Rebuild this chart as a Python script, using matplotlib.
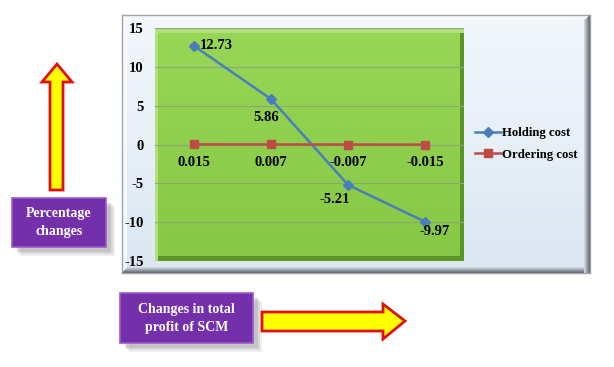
import matplotlib.pyplot as plt
import numpy as np
from matplotlib.patches import Rectangle, Polygon
from matplotlib.colors import LinearSegmentedColormap

categories = ["0.015", "0.007", "-0.007", "-0.015"]
holding = [12.73, 5.86, -5.21, -9.97]
ordering = [0.015, 0.007, -0.007, -0.015]
holding_labels = ["12.73", "5.86", "-5.21", "-9.97"]
ordering_labels = ["0.015", "0.007", "-0.007", "-0.015"]

W, H = 614, 367
plt.rcParams['font.family'] = ['Liberation Serif', 'DejaVu Serif']
plt.rcParams['font.weight'] = 'bold'
plt.rcParams['axes.unicode_minus'] = False

fig = plt.figure(figsize=(W / 100, H / 100), dpi=100)
fig.patch.set_facecolor('white')


def fx(x):
    return x / W


def fy(y):
    return 1 - y / H


def pix_poly(pts, **kw):
    return Polygon([(fx(x), fy(y)) for x, y in pts], closed=True,
                   transform=fig.transFigure, **kw)


def bevel(a, w, h, b, dark, light):
    # strips along the edges of an axes that uses pixel coordinates
    for i in range(b):
        t = i / max(b - 1, 1)
        cd = np.array(dark) * (1 - t) + np.array(light) * t
        a.add_patch(Rectangle((w - i - 1, 0), 1, h - i, color=cd, lw=0, zorder=1))
        a.add_patch(Rectangle((i, i), w - 2 * i, 1, color=cd, lw=0, zorder=1))


# ===== outer chart frame (light blue) =====
fw, fh = 590 - 122, 273 - 15
frame_ax = fig.add_axes([fx(122), fy(273), fx(590) - fx(122), fy(15) - fy(273)], zorder=0)
frame_ax.imshow(np.linspace(0, 1, 100).reshape(-1, 1), aspect='auto',
                cmap=LinearSegmentedColormap.from_list('fr', ['#dce7f2', '#f2f7fc']),
                extent=[0, fw, 0, fh], origin='lower', zorder=0)
frame_ax.add_patch(Rectangle((0, 0), 5, fh, color='#f7fafd', lw=0, zorder=1))
frame_ax.add_patch(Rectangle((0, fh - 5), fw, 5, color='#f7fafd', lw=0, zorder=1))
bevel(frame_ax, fw, fh, 6, (0.40, 0.42, 0.45), (0.80, 0.84, 0.89))
frame_ax.set_xlim(0, fw)
frame_ax.set_ylim(0, fh)
frame_ax.set_xticks([])
frame_ax.set_yticks([])
for s in frame_ax.spines.values():
    s.set_color('#a0a4a8')
    s.set_linewidth(1)

# ===== plot area =====
ax = fig.add_axes([fx(155), fy(261), fx(464) - fx(155), fy(28) - fy(261)], zorder=2)
green = LinearSegmentedColormap.from_list('gr', ['#86c845', '#98d656'])
ax.imshow(np.linspace(0, 1, 100).reshape(-1, 1), aspect='auto', cmap=green,
          extent=[-0.5, 3.5, -15, 15], origin='lower', zorder=0)
# green bevel edges
ax.add_patch(Rectangle((3.45, -15), 0.05, 30, color='#5c9428', zorder=0.5, lw=0))
ax.add_patch(Rectangle((-0.5, -15), 4, 0.7, color='#5c9428', zorder=0.5, lw=0))
ax.add_patch(Rectangle((-0.5, 14.4), 4, 0.6, color='#b2e07c', zorder=0.5, lw=0))
ax.add_patch(Rectangle((-0.5, -15), 0.04, 30, color='#b2e07c', zorder=0.5, lw=0))

x = np.arange(len(categories))
ax.plot(x, holding, color='#4a7ebb', lw=1.8, marker='D', ms=5, label='Holding cost', zorder=3)
ax.plot(x, ordering, color='#be4b48', lw=1.8, marker='s', ms=6, label='Ordering cost', zorder=3)

ax.set_xlim(-0.5, 3.5)
ax.set_ylim(-15, 15)
ax.set_yticks(np.arange(-15, 16, 5))
ax.set_xticks([])
ax.yaxis.grid(True, color='#8aa878', lw=0.8)
ax.set_axisbelow(True)
ax.tick_params(axis='y', length=0, pad=8, labelsize=10.5)
for s in ax.spines.values():
    s.set_visible(False)

h_off = [(6, 0, 'left'), (-5, -19, 'center'), (-13, -15, 'center'), (9, -10, 'center')]
for i, (dx, dy, ha) in enumerate(h_off):
    ax.annotate(holding_labels[i], (x[i], holding[i]), xytext=(dx * 0.72, dy * 0.72),
                textcoords='offset points', ha=ha, va='center', fontsize=10.5, zorder=4)
for i in range(len(categories)):
    ax.annotate(ordering_labels[i], (x[i], ordering[i]), xytext=(0, -18 * 0.72),
                textcoords='offset points', ha='center', va='center', fontsize=10.5, zorder=4)

leg = fig.legend(loc='center left', bbox_to_anchor=(fx(475), fy(144)), frameon=False,
                 fontsize=9.2, handlelength=2.0, handletextpad=0.1, labelspacing=0.75,
                 borderaxespad=0, borderpad=0)
leg.set_zorder(5)


# ===== purple label boxes =====
def purple_box(x0, y0, x1, y1, text):
    for k, al in [(9, 0.15), (7, 0.25), (5, 0.35)]:
        fig.patches.append(Rectangle((fx(x0 + k), fy(y1 + k)), fx(x1) - fx(x0), fy(y0) - fy(y1),
                                     transform=fig.transFigure, color='#9a9a9a', alpha=al,
                                     lw=0, zorder=1))
    fig.patches.append(Rectangle((fx(x0), fy(y1)), fx(x1) - fx(x0), fy(y0) - fy(y1),
                                 transform=fig.transFigure, facecolor='#7330aa',
                                 edgecolor='#9b5ad2', lw=1.2, zorder=3))
    fig.text(fx((x0 + x1) / 2), fy((y0 + y1) / 2), text, color='white', ha='center',
             va='center', fontsize=10, linespacing=1.5, zorder=4)


purple_box(12, 198, 106, 247, "Percentage\nchanges")
purple_box(120, 293, 253, 343, "Changes in total\nprofit of SCM")

# ===== arrows =====
up = [(50, 190), (50, 82), (42, 82), (57, 64), (72, 82), (63, 82), (63, 190)]
fig.patches.append(pix_poly(up, facecolor='#ffff00', edgecolor='#e01010', lw=2, zorder=3))
right = [(262, 312), (383, 312), (383, 304), (405, 321), (383, 339), (383, 331), (262, 331)]
fig.patches.append(pix_poly(right, facecolor='#ffff00', edgecolor='#e01010', lw=2, zorder=3))

fig.savefig('out.png', dpi=100)
